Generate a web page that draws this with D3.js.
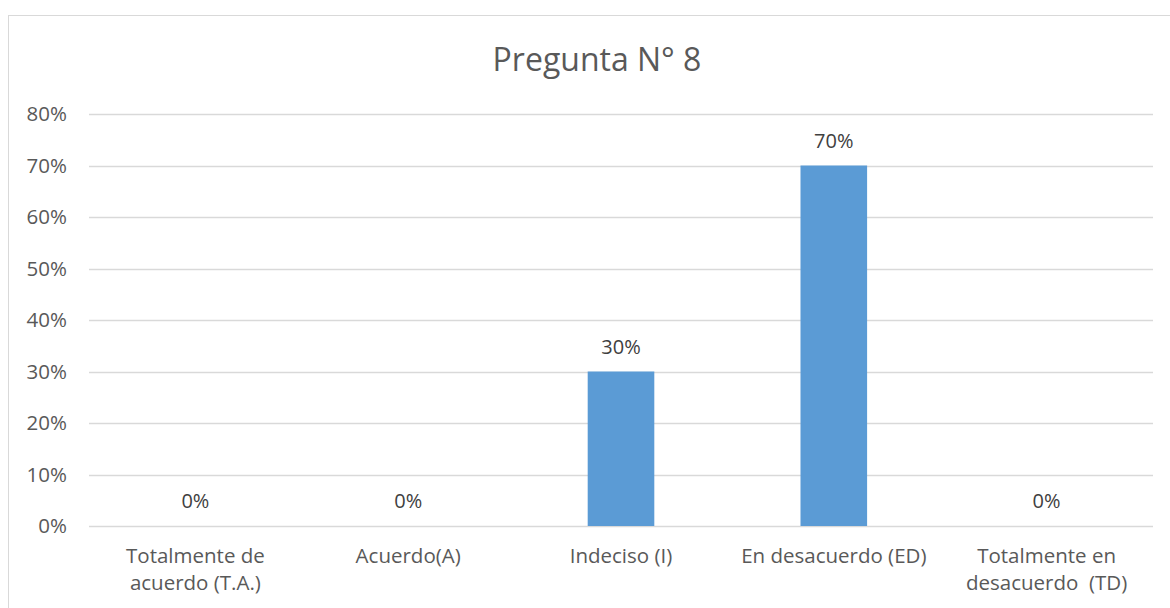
<!DOCTYPE html>
<html>
<head>
<meta charset="utf-8">
<script src="https://cdn.jsdelivr.net/npm/d3@7"></script>
<style>
  html, body { margin: 0; padding: 0; background: #fff; }
  svg { display: block; }
</style>
</head>
<body>
<script>
const categories = ["Totalmente de|acuerdo (T.A.)", "Acuerdo(A)", "Indeciso (I)", "En desacuerdo (ED)", "Totalmente en|desacuerdo  (TD)"];
const values = [0, 0, 0.30, 0.70, 0];
const yTicks = [0, 0.1, 0.2, 0.3, 0.4, 0.5, 0.6, 0.7, 0.8];
const title = "Pregunta N° 8";

const W = 1170, H = 608;
const margin = { left: 89, right: 17, top: 114, bottom: 82 };
const font = "'Open Sans', sans-serif";

const svg = d3.select("body").append("svg").attr("width", W).attr("height", H);

// chart border
svg.append("rect").attr("x", 8.5).attr("y", 15.5).attr("width", 1170).attr("height", 620)
  .attr("fill", "#fff").attr("stroke", "#D9D9D9").attr("stroke-width", 1);

const x = d3.scaleBand().domain(categories).range([margin.left, W - margin.right]).paddingInner(0.687).paddingOuter(0.3435);
const xc = d3.scaleBand().domain(categories).range([margin.left, W - margin.right]);
const y = d3.scaleLinear().domain([0, 0.8]).range([H - margin.bottom, margin.top]);

// gridlines
svg.append("g").selectAll("line").data(yTicks).join("line")
  .attr("x1", margin.left).attr("x2", W - margin.right)
  .attr("y1", d => Math.round(y(d)) + 0.5).attr("y2", d => Math.round(y(d)) + 0.5)
  .attr("stroke", "#D9D9D9").attr("stroke-width", 1.5);

// y axis labels
const yAxis = d3.axisLeft(y).tickValues(yTicks).tickFormat(d3.format(".0%")).tickSize(0).tickPadding(22);
const ya = svg.append("g").attr("transform", `translate(${margin.left},0)`).call(yAxis);
ya.select(".domain").remove();
ya.selectAll("text").attr("font-family", font).attr("font-size", 20.5).attr("fill", "#595959");

// bars
svg.append("g").selectAll("rect").data(values).join("rect")
  .attr("x", (d, i) => x(categories[i]))
  .attr("width", x.bandwidth())
  .attr("y", d => y(d))
  .attr("height", d => y(0) - y(d))
  .attr("fill", "#5B9BD5");

// data labels
svg.append("g").selectAll("text").data(values).join("text")
  .attr("x", (d, i) => xc(categories[i]) + xc.bandwidth() / 2)
  .attr("y", d => y(d) - 18)
  .attr("text-anchor", "middle")
  .attr("font-family", font).attr("font-size", 20).attr("fill", "#404040")
  .text(d => d3.format(".0%")(d));

// x labels
const xl = svg.append("g").selectAll("text").data(categories).join("text")
  .attr("x", d => xc(d) + xc.bandwidth() / 2)
  .attr("y", y(0) + 37)
  .attr("text-anchor", "middle")
  .attr("font-family", font).attr("font-size", 20.5).attr("fill", "#595959")
  .attr("xml:space", "preserve");
xl.each(function(d) {
  const parts = d.split("|");
  const t = d3.select(this);
  parts.forEach((p, i) => {
    t.append("tspan").attr("x", xc(d) + xc.bandwidth() / 2).attr("dy", i === 0 ? 0 : 27).text(p);
  });
});

// title
svg.append("text").attr("x", 597).attr("y", 71).attr("text-anchor", "middle")
  .attr("font-family", font).attr("font-size", 32).attr("fill", "#595959").text(title);
</script>
</body>
</html>
